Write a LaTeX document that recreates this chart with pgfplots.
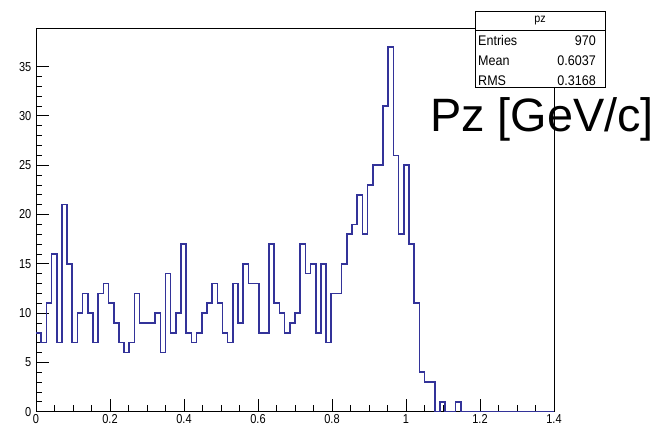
\documentclass[border=0pt]{standalone}
\usepackage{fontspec}
\usepackage{pgfplots}
\pgfplotsset{compat=1.18}
\usepackage{pgfplotstable}
\setmainfont{Liberation Sans}
\newfontfamily\rootfont[FakeStretch=0.85]{Liberation Sans}
\newfontfamily\statfont[FakeStretch=0.9]{Liberation Sans}
\definecolor{histblue}{RGB}{51,51,153}

% pz distribution: left bin edge (GeV/c) and counts, 100 bins of 0.014 on [0,1.4]
\pgfplotstableread{
x      n
0.000  8
0.014  7
0.028  11
0.042  16
0.056  7
0.070  21
0.084  15
0.098  7
0.112  10
0.126  12
0.140  10
0.154  7
0.168  12
0.182  13
0.196  11
0.210  9
0.224  7
0.238  6
0.252  7
0.266  12
0.280  9
0.294  9
0.308  9
0.322  10
0.336  6
0.350  14
0.364  8
0.378  10
0.392  17
0.406  8
0.420  7
0.434  8
0.448  10
0.462  11
0.476  13
0.490  11
0.504  8
0.518  7
0.532  13
0.546  9
0.560  15
0.574  13
0.588  13
0.602  8
0.616  8
0.630  17
0.644  11
0.658  10
0.672  8
0.686  9
0.700  10
0.714  17
0.728  14
0.742  15
0.756  8
0.770  15
0.784  7
0.798  12
0.812  12
0.826  15
0.840  18
0.854  19
0.868  22
0.882  18
0.896  23
0.910  25
0.924  25
0.938  31
0.952  37
0.966  26
0.980  18
0.994  25
1.008  17
1.022  11
1.036  4
1.050  3
1.064  3
1.078  0
1.092  1
1.106  0
1.120  0
1.134  1
1.148  0
1.400  0
}\pzhist

\begin{document}
\begin{tikzpicture}
\path (0,0) rectangle (664bp,427bp);
\begin{axis}[
  at={(36bp,15.3bp)}, anchor=south west,
  width=518bp, height=383bp, scale only axis,
  xmin=0, xmax=1.4, ymin=0, ymax=38.85,
  axis line style={black, line width=0.8bp},
  xtick={0,0.2,0.4,0.6,0.8,1,1.2,1.4},
  xticklabels={0,0.2,0.4,0.6,0.8,1,1.2,1.4},
  ytick={0,5,10,15,20,25,30,35},
  yticklabels={0,5,10,15,20,25,30,35},
  minor x tick num=3, minor y tick num=4,
  xtick pos=left, ytick pos=left,
  tick align=inside,
  major tick length=13bp, minor tick length=6.5bp,
  every tick/.style={black, line width=0.9bp},
  tick label style={font=\rootfont\fontsize{13}{13}\selectfont, inner sep=0pt},
  xticklabel style={yshift=-3bp},
  yticklabel style={xshift=-4.5bp},
]
\addplot[const plot, histblue, line width=1.6bp] table[x=x, y=n] {\pzhist};
\end{axis}

% statistics box
\draw[black, line width=0.8bp, fill=white] (475bp,339.7bp) rectangle (605bp,415.3bp);
\draw[black, line width=0.8bp] (475bp,397bp) -- (605bp,397bp);
\node[font=\statfont\fontsize{12}{12}\selectfont, inner sep=0pt] at (540bp,406bp) {pz};
\begin{scope}[every node/.style={font=\statfont\fontsize{14}{14}\selectfont, inner sep=0pt}]
\node[anchor=west] at (478bp,386bp) {Entries};
\node[anchor=east] at (596bp,386bp) {970};
\node[anchor=west] at (478bp,366bp) {Mean};
\node[anchor=east] at (596bp,366bp) {0.6037};
\node[anchor=west] at (478bp,346bp) {RMS};
\node[anchor=east] at (596bp,346bp) {0.3168};
\end{scope}

% axis title placed over the frame
\node[anchor=base west, inner sep=0pt, font=\fontsize{47}{47}\selectfont] at (430bp,295bp) {Pz [GeV/c]};
\end{tikzpicture}
\end{document}
